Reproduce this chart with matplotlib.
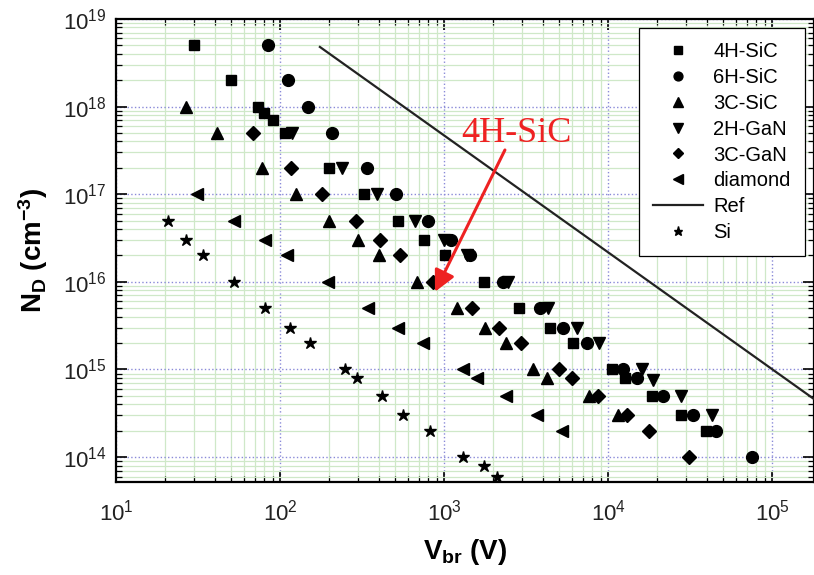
import matplotlib
matplotlib.use('Agg')
import matplotlib.pyplot as plt
from matplotlib.ticker import LogLocator, NullFormatter

plt.rcParams['font.family'] = ['Liberation Sans', 'DejaVu Sans']
plt.rcParams['mathtext.default'] = 'regular'

# 4H-SiC
sic4h_v = [30, 50, 73, 80, 90, 107, 200, 325, 525, 755, 1020, 1740, 2880, 4450, 6100,
           10500, 12600, 18600, 28000, 39700]
sic4h_n = [5e18, 2e18, 1e18, 8.5e17, 7e17, 5e17, 2e17, 1e17, 5e16, 3e16, 2e16, 1e16, 5e15,
           3e15, 2e15, 1e15, 8e14, 5e14, 3e14, 2e14]
# 6H-SiC
sic6h_v = [85, 112, 148, 207, 340, 510, 795, 1100, 1440, 2300, 3850, 5320, 7400, 12400,
           15100, 21600, 33000, 45700, 75000]
sic6h_n = [5e18, 2e18, 1e18, 5e17, 2e17, 1e17, 5e16, 3e16, 2e16, 1e16, 5e15, 3e15, 2e15,
           1e15, 8e14, 5e14, 3e14, 2e14, 1e14]
# 3C-SiC
sic3c_v = [26.7, 41, 78, 125, 200, 300, 400, 685, 1200, 1780, 2400, 3500, 4260, 7600, 11500]
sic3c_n = [1e18, 5e17, 2e17, 1e17, 5e16, 3e16, 2e16, 1e16, 5e15, 3e15, 2e15, 1e15, 8e14,
           5e14, 3e14]
# 2H-GaN
gan2h_v = [118, 240, 390, 665, 1000, 1380, 2450, 4300, 6440, 8800, 16100, 18700, 27900, 43000]
gan2h_n = [5e17, 2e17, 1e17, 5e16, 3e16, 2e16, 1e16, 5e15, 3e15, 2e15, 1e15, 7.6e14, 5e14, 3e14]
# 3C-GaN
gan3c_v = [68, 117, 180, 290, 405, 535, 860, 1480, 2160, 2950, 5000, 6000, 8700, 13000,
           17800, 31000]
gan3c_n = [5e17, 2e17, 1e17, 5e16, 3e16, 2e16, 1e16, 5e15, 3e15, 2e15, 1e15, 8e14, 5e14,
           3e14, 2e14, 1e14]
# diamond
diam_v = [31, 52.5, 81, 110, 195, 345, 525, 745, 1300, 1590, 2390, 3700, 5260]
diam_n = [1e17, 5e16, 3e16, 2e16, 1e16, 5e15, 3e15, 2e15, 1e15, 8e14, 5e14, 3e14, 2e14]
# Si
si_v = [20.7, 26.7, 34, 52.5, 81, 115, 152, 250, 294, 420, 565, 820, 1300, 1740, 2090]
si_n = [5e16, 3e16, 2e16, 1e16, 5e15, 3e15, 2e15, 1e15, 8e14, 5e14, 3e14, 2e14, 1e14, 8e13, 6e13]
# reference line
ref_v = [175, 1.8e5]
ref_n = [4.8e18, 4.6e14]

fig = plt.figure(figsize=(8.14, 5.75), dpi=100)
ax = fig.add_axes([116 / 814, 93 / 575, 698 / 814, 463 / 575])

ax.plot(sic4h_v, sic4h_n, 's', color='black', ms=7.5, label='4H-SiC', zorder=3)
ax.plot(sic6h_v, sic6h_n, 'o', color='black', ms=8.5, label='6H-SiC', zorder=3)
ax.plot(sic3c_v, sic3c_n, '^', color='black', ms=9, label='3C-SiC', zorder=3)
ax.plot(gan2h_v, gan2h_n, 'v', color='black', ms=9, label='2H-GaN', zorder=3)
ax.plot(gan3c_v, gan3c_n, 'D', color='black', ms=7, label='3C-GaN', zorder=3)
ax.plot(diam_v, diam_n, '<', color='black', ms=9, label='diamond', zorder=3)
ax.plot(ref_v, ref_n, '-', color='#222222', lw=1.6, label='Ref', zorder=3)
ax.plot(si_v, si_n, '*', color='black', ms=9, label='Si', zorder=3)

ax.set_xscale('log')
ax.set_yscale('log')
ax.set_xlim(10, 1.8e5)
ax.set_ylim(5.2e13, 1e19)

ax.xaxis.set_minor_locator(LogLocator(base=10, subs=range(2, 10), numticks=20))
ax.yaxis.set_minor_locator(LogLocator(base=10, subs=range(2, 10), numticks=20))
ax.xaxis.set_minor_formatter(NullFormatter())
ax.yaxis.set_minor_formatter(NullFormatter())

ax.grid(which='minor', color='#cfe8c8', lw=0.9, ls='-', zorder=0)
ax.grid(which='major', color='#8a8ad8', lw=1.0, ls=':', zorder=1)
ax.set_axisbelow(True)

ax.tick_params(which='both', direction='in', top=True, right=True, labelsize=16,
               labelcolor='#222222')
ax.tick_params(which='major', length=8, width=1.2)
ax.tick_params(which='minor', length=4, width=0.9)
ax.tick_params(axis='x', pad=13)
ax.tick_params(axis='y', pad=7)
for s in ax.spines.values():
    s.set_linewidth(1.6)

ax.set_xlabel('V$_{br}$ (V)', fontsize=20, fontweight='bold', labelpad=8)
ax.set_ylabel('N$_D$ (cm$^{-3}$)', fontsize=20, fontweight='bold', labelpad=9)

leg = ax.legend(loc='upper right', fontsize=14.5, frameon=True, fancybox=False,
                edgecolor='black', framealpha=1, markerscale=0.75, handlelength=2.5,
                handletextpad=0.5, labelspacing=0.34, borderaxespad=0.45, borderpad=0.7)
leg.get_frame().set_linewidth(0.9)

ax.text(2750, 5.0e17, '4H-SiC', color='#ee2222', fontsize=26, ha='center', va='center',
        family=['Liberation Serif', 'DejaVu Serif'])
ax.annotate('', xy=(880, 7.7e15), xytext=(2350, 3.2e17),
            arrowprops=dict(arrowstyle='-|>', color='#ee2222', lw=2.2, mutation_scale=32,
                            shrinkA=0, shrinkB=0))

fig.savefig('out.png', dpi=100)
